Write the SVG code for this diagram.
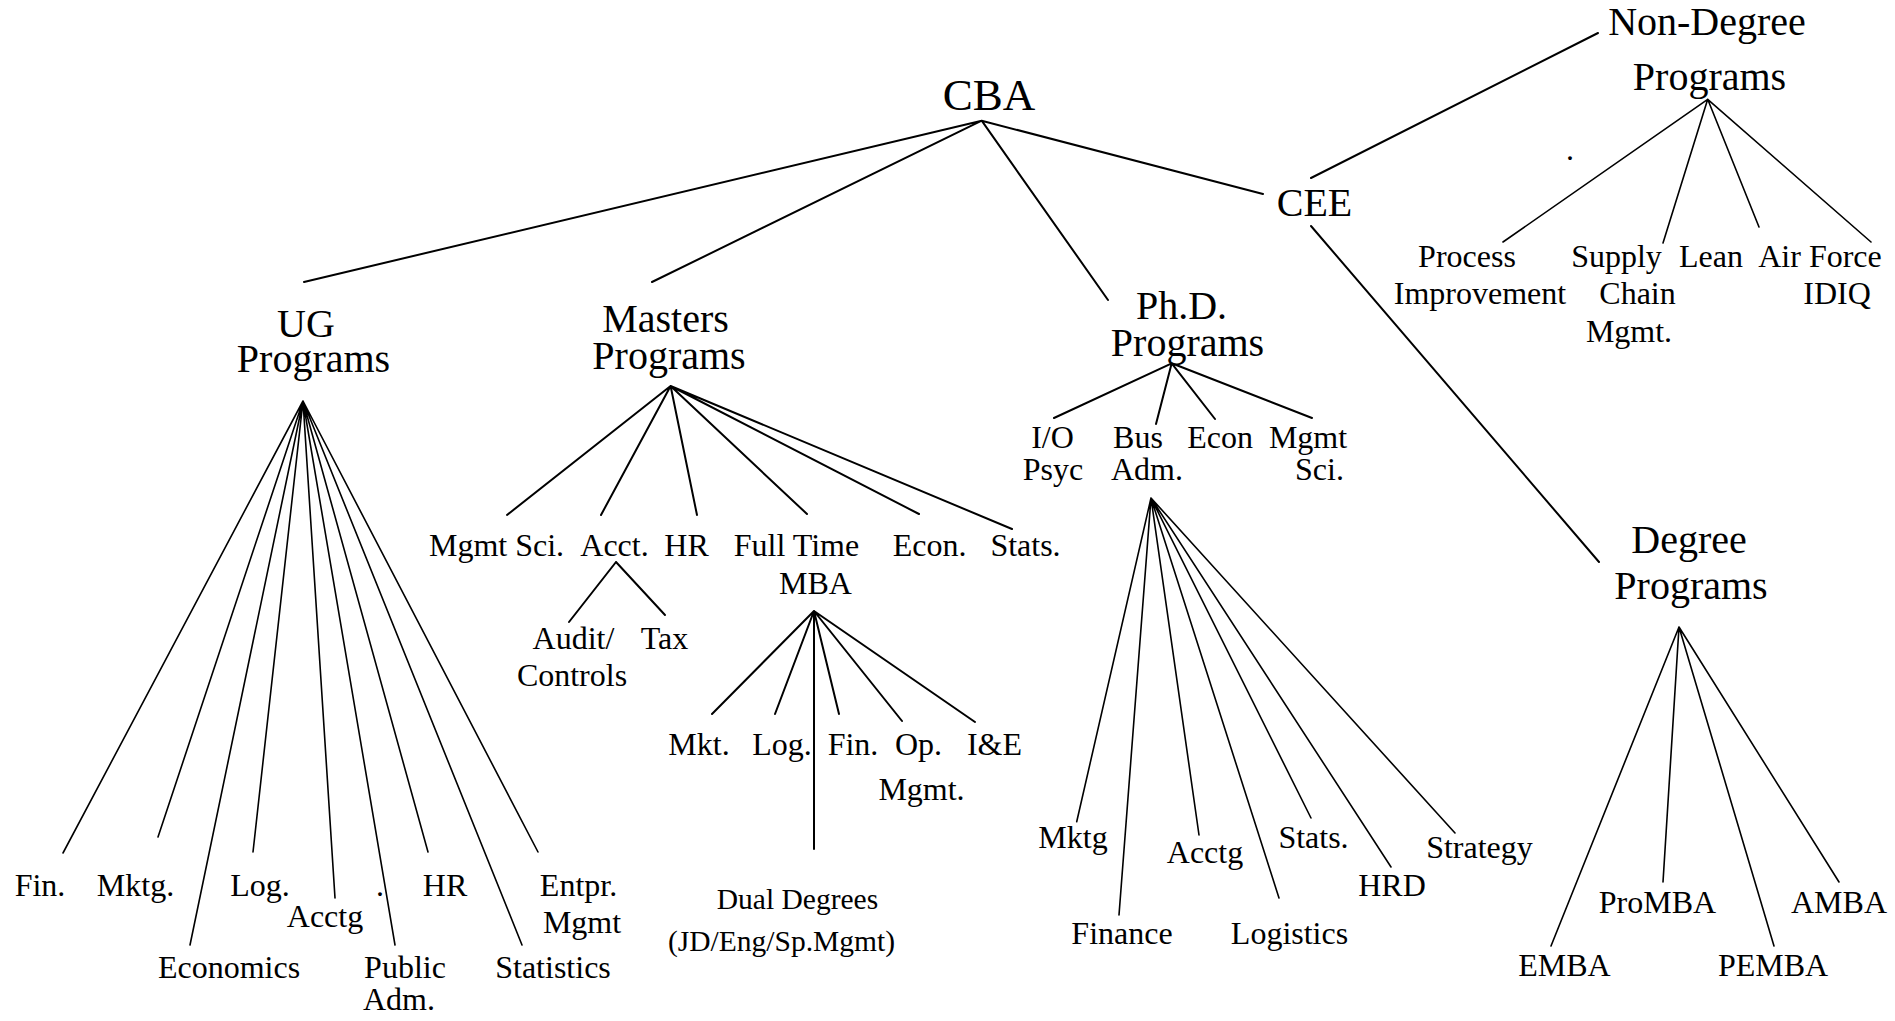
<svg xmlns="http://www.w3.org/2000/svg" width="1895" height="1021" viewBox="0 0 1895 1021">
<style>
text{font-family:"Liberation Serif","Times New Roman",serif;fill:#000;text-anchor:middle}
.xl{font-size:45px}
.l{font-size:40px}
.m{font-size:32px}
.s{font-size:29.5px}
.c path{fill:none;stroke:#000;stroke-linecap:round}
.w2{stroke-width:2}
.w1{stroke-width:1.6}
</style>
<rect width="1895" height="1021" fill="#fff"/>
<g id="connectors" class="c">
<path class="w2" d="M981.7 120.7L304 282M981.7 120.7L652 282M981.7 120.7L1108 300M981.7 120.7L1263 194"/>
<path class="w2" d="M1311 178L1598 33M1311 226L1599 562"/>
<path class="w1" d="M1707.7 99.3L1503 242M1707.7 99.3L1663 243M1707.7 99.3L1759 227M1707.7 99.3L1871 242"/>
<path class="w1" d="M303 401L63 853M303 401L158 837M303 401L190 945M303 401L253 852M303 401L335 898M303 401L395 945M303 401L428 852M303 401L522 945M303 401L538 852"/>
<path class="w2" d="M670.6 386L507 515M670.6 386L601 515M670.6 386L697 515M670.6 386L807 514M670.6 386L919 514M670.6 386L1012 529"/>
<path class="w2" d="M616 562L569 622M616 562L665 615"/>
<path class="w2" d="M814 611L712 714M814 611L775 714M814 611L814 849M814 611L839 714M814 611L902 721M814 611L975 722"/>
<path class="w2" d="M1171.7 363.3L1054 418M1171.7 363.3L1156 424M1171.7 363.3L1215 419M1171.7 363.3L1312 418"/>
<path class="w1" d="M1151 498L1076.7 821.7M1151 498L1119 915M1151 498L1199 835M1151 498L1279 898M1151 498L1311 818M1151 498L1391 867M1151 498L1455 833"/>
<path class="w1" d="M1679 627L1551 946M1679 627L1663 882M1679 627L1774 946M1679 627L1839 882"/>
</g>
<g id="cba"><text class="xl" x="989" y="110">CBA</text></g>
<g id="cee"><text class="l" x="1314.5" y="216">CEE</text></g>
<g id="non-degree"><text class="l" x="1707" y="35">Non-Degree<tspan x="1709.5" y="90">Programs</tspan></text></g>
<g id="nd-dot"><text class="m" x="1570" y="160">.</text></g>
<g id="process"><text class="m" x="1467" y="267">Process<tspan x="1480" y="304">Improvement</tspan></text></g>
<g id="supply"><text class="m" x="1616.5" y="267">Supply<tspan x="1637.5" y="304">Chain</tspan><tspan x="1629" y="342">Mgmt.</tspan></text></g>
<g id="lean"><text class="m" x="1711" y="267">Lean</text></g>
<g id="airforce"><text class="m" x="1820" y="267">Air Force<tspan x="1837" y="304">IDIQ</tspan></text></g>
<g id="degree"><text class="l" x="1689" y="553">Degree<tspan x="1691" y="599">Programs</tspan></text></g>
<g id="promba"><text class="m" x="1657.5" y="913">ProMBA</text></g>
<g id="amba"><text class="m" x="1839" y="913">AMBA</text></g>
<g id="emba"><text class="m" x="1564.5" y="976">EMBA</text></g>
<g id="pemba"><text class="m" x="1773" y="976">PEMBA</text></g>
<g id="ug"><text class="l" x="306" y="337">UG<tspan x="313.5" y="372">Programs</tspan></text></g>
<g id="ug-fin"><text class="m" x="40" y="896">Fin.</text></g>
<g id="ug-mktg"><text class="m" x="135.5" y="896">Mktg.</text></g>
<g id="ug-log"><text class="m" x="260" y="896">Log.</text></g>
<g id="ug-acctg"><text class="m" x="325" y="927">Acctg</text></g>
<g id="ug-dot"><text class="m" x="380" y="896">.</text></g>
<g id="ug-hr"><text class="m" x="445" y="896">HR</text></g>
<g id="ug-entpr"><text class="m" x="578.5" y="896">Entpr.<tspan x="582" y="933">Mgmt</tspan></text></g>
<g id="ug-econ"><text class="m" x="229" y="978">Economics</text></g>
<g id="ug-public"><text class="m" x="405" y="978">Public<tspan x="399" y="1010">Adm.</tspan></text></g>
<g id="ug-stat"><text class="m" x="553" y="978">Statistics</text></g>
<g id="masters"><text class="l" x="665.5" y="332">Masters<tspan x="669" y="369">Programs</tspan></text></g>
<g id="m-mgmtsci"><text class="m" x="496.5" y="556">Mgmt Sci.</text></g>
<g id="m-acct"><text class="m" x="614.5" y="556">Acct.</text></g>
<g id="m-hr"><text class="m" x="686.5" y="556">HR</text></g>
<g id="m-ftmba"><text class="m" x="796.5" y="556">Full Time<tspan x="815.5" y="594">MBA</tspan></text></g>
<g id="m-econ"><text class="m" x="929.5" y="556">Econ.</text></g>
<g id="m-stats"><text class="m" x="1025.5" y="556">Stats.</text></g>
<g id="audit"><text class="m" x="573.5" y="649">Audit/<tspan x="572" y="686">Controls</tspan></text></g>
<g id="tax"><text class="m" x="664.5" y="649">Tax</text></g>
<g id="mba-mkt"><text class="m" x="699" y="755">Mkt.</text></g>
<g id="mba-log"><text class="m" x="782" y="755">Log.</text></g>
<g id="mba-fin"><text class="m" x="853" y="755">Fin.</text></g>
<g id="mba-op"><text class="m" x="918.5" y="755">Op.<tspan x="921.5" y="800">Mgmt.</tspan></text></g>
<g id="mba-ie"><text class="m" x="994.5" y="755">I&amp;E</text></g>
<g id="dual"><text class="s" x="797.5" y="909">Dual Degrees<tspan x="781.5" y="951">(JD/Eng/Sp.Mgmt)</tspan></text></g>
<g id="phd"><text class="l" x="1181.5" y="319">Ph.D.<tspan x="1187.5" y="356">Programs</tspan></text></g>
<g id="p-io"><text class="m" x="1052.5" y="448">I/O<tspan x="1053" y="480">Psyc</tspan></text></g>
<g id="p-bus"><text class="m" x="1138" y="448">Bus<tspan x="1147" y="480">Adm.</tspan></text></g>
<g id="p-econ"><text class="m" x="1220" y="448">Econ</text></g>
<g id="p-mgmt"><text class="m" x="1308" y="448">Mgmt<tspan x="1319.5" y="480">Sci.</tspan></text></g>
<g id="b-mktg"><text class="m" x="1073" y="848">Mktg</text></g>
<g id="b-finance"><text class="m" x="1122" y="944">Finance</text></g>
<g id="b-acctg"><text class="m" x="1205" y="863">Acctg</text></g>
<g id="b-logistics"><text class="m" x="1289.5" y="944">Logistics</text></g>
<g id="b-stats"><text class="m" x="1313.5" y="848">Stats.</text></g>
<g id="b-hrd"><text class="m" x="1392" y="896">HRD</text></g>
<g id="b-strategy"><text class="m" x="1479.5" y="858">Strategy</text></g>
</svg>
